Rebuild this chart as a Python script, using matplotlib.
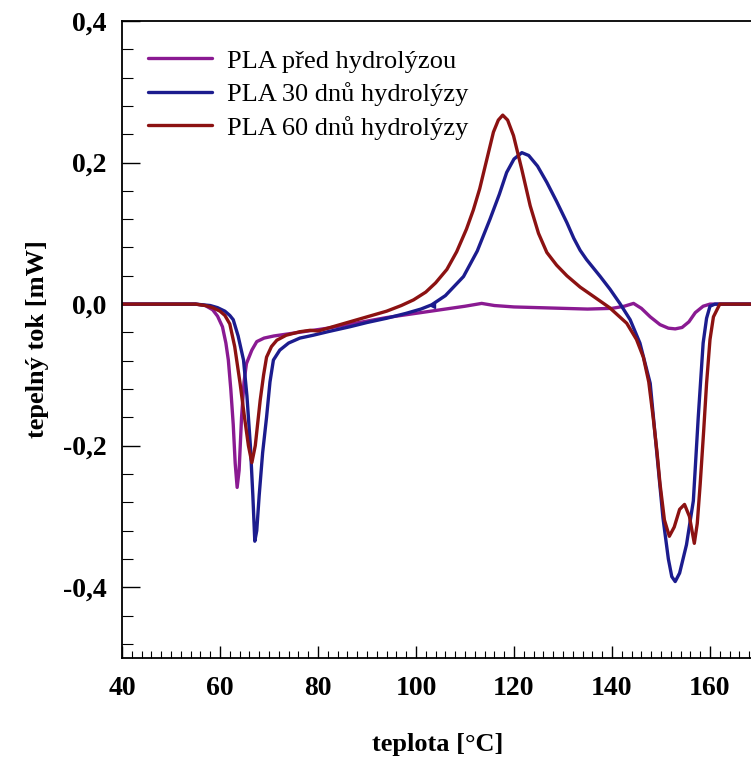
import numpy as np
import matplotlib
matplotlib.use("Agg")
import matplotlib.pyplot as plt
from matplotlib.ticker import MultipleLocator, FuncFormatter

plt.rcParams['font.family'] = ['Liberation Serif', 'DejaVu Serif']

# PLA před hydrolýzou
t_pred = [40, 55, 57, 58.5, 59.5, 60.5, 61.2, 61.7, 62.2, 62.7, 63.1, 63.5, 63.9, 64.4, 64.9,
          65.4, 66.5, 67.5, 69, 71, 74, 78, 82, 86, 90, 94, 98, 102, 106, 110, 113.4, 116,
          120, 125, 130, 135, 140, 142.5, 144.4, 146, 147.8, 149.8, 151.5, 152.9, 154.3,
          155.7, 157, 158.6, 160, 170, 180]
v_pred = [0, 0, -0.002, -0.008, -0.017, -0.032, -0.055, -0.079, -0.12, -0.17, -0.225, -0.259,
          -0.235, -0.16, -0.11, -0.084, -0.065, -0.053, -0.048, -0.045, -0.042, -0.038,
          -0.034, -0.029, -0.024, -0.019, -0.015, -0.011, -0.007, -0.003, 0.001, -0.002,
          -0.004, -0.005, -0.006, -0.007, -0.006, -0.003, 0.001, -0.006, -0.018, -0.029,
          -0.034, -0.035, -0.033, -0.025, -0.012, -0.003, 0, 0, 0]

# PLA 30 dnů hydrolýzy
t_30 = [40, 55, 58, 59.5, 61, 62, 62.7, 63.7, 64.8, 65.5, 66.2, 66.7, 67.1, 67.5, 68, 68.7,
        69.5, 70.2, 70.9, 72.2, 74, 76.3, 79, 82, 86.5, 90, 94, 98, 101, 103.2, 106, 109.7,
        112.5, 115.1, 117, 118.5, 120, 121.6, 123, 124.8, 126.7, 128.7, 130.8, 132.2, 133.5,
        134.8, 136.2, 137.6, 139.6, 141.6, 143.7, 145.7, 147.8, 149.1, 150.4, 151.5, 152.2,
        152.9, 153.8, 155.2, 156.6, 157.6, 158.6, 159.3, 160, 161, 170, 180]
v_30 = [0, 0, -0.002, -0.005, -0.01, -0.016, -0.022, -0.045, -0.079, -0.13, -0.2, -0.27,
        -0.335, -0.32, -0.27, -0.21, -0.16, -0.11, -0.079, -0.065, -0.055, -0.048, -0.044,
        -0.039, -0.032, -0.026, -0.02, -0.013, -0.007, -0.001, 0.012, 0.039, 0.075, 0.12,
        0.155, 0.186, 0.205, 0.214, 0.21, 0.195, 0.172, 0.145, 0.115, 0.093, 0.076, 0.063,
        0.051, 0.039, 0.021, 0.001, -0.022, -0.055, -0.112, -0.207, -0.302, -0.36, -0.385,
        -0.392, -0.38, -0.34, -0.278, -0.16, -0.055, -0.02, -0.003, 0, 0, 0]

# PLA 60 dnů hydrolýzy
t_60 = [40, 55, 57, 58.5, 60, 61, 62, 63, 64.1, 65, 65.8, 66.5, 67.2, 68.2, 68.9, 69.5, 70.5,
        71.6, 73.5, 76.3, 78.4, 80, 83, 86.5, 90, 94, 97, 99.5, 102, 104, 106.3, 108.3,
        110.3, 111.7, 113, 114.4, 115.8, 116.8, 117.7, 118.7, 119.9, 121.6, 123.3, 125,
        126.7, 128.7, 130.8, 133.5, 136.2, 139.5, 143, 145, 146.4, 147.5, 148.4, 149.2,
        149.8, 150.7, 151.7, 152.7, 153.8, 154.8, 155.8, 156.8, 157.4, 158, 158.7, 159.3,
        160, 160.7, 162, 170, 180]
v_60 = [0, 0, -0.002, -0.005, -0.01, -0.016, -0.028, -0.06, -0.112, -0.16, -0.2, -0.224,
        -0.2, -0.136, -0.1, -0.075, -0.06, -0.051, -0.044, -0.039, -0.037, -0.038, -0.032,
        -0.025, -0.018, -0.01, -0.002, 0.006, 0.017, 0.03, 0.049, 0.074, 0.106, 0.133,
        0.163, 0.203, 0.243, 0.26, 0.267, 0.26, 0.238, 0.19, 0.139, 0.1, 0.073, 0.055,
        0.04, 0.024, 0.011, -0.005, -0.027, -0.05, -0.075, -0.11, -0.16, -0.21, -0.254,
        -0.305, -0.328, -0.315, -0.29, -0.283, -0.3, -0.338, -0.31, -0.254, -0.18, -0.112,
        -0.05, -0.018, 0, 0, 0]

labels = ['PLA před hydrolýzou', 'PLA 30 dnů hydrolýzy', 'PLA 60 dnů hydrolýzy']
colors = ['#8a1a92', '#1c1c8e', '#8c1212']

fig = plt.figure(figsize=(7.51, 7.60), dpi=100)
# osa x pokračuje až za pravý okraj obrázku
ax = fig.add_axes([122 / 751, 102 / 760, 686 / 751, 637 / 760])

for t, v, lab, c in zip([t_pred, t_30, t_60], [v_pred, v_30, v_60], labels, colors):
    ax.plot(t, v, color=c, lw=2.4, label=lab, solid_capstyle='round')
# malý zub na modré křivce kolem 103 °C
ax.plot([103.2], [-0.001], marker='<', ms=5, color=colors[1])

ax.set_xlim(40, 180)
ax.set_ylim(-0.5, 0.4)

ax.xaxis.set_major_locator(MultipleLocator(20))
ax.xaxis.set_minor_locator(MultipleLocator(2))
ax.xaxis.set_major_formatter(FuncFormatter(lambda x, p: f'{x:.0f}' if x < 170 else ''))
ax.yaxis.set_major_locator(MultipleLocator(0.2))
ax.yaxis.set_minor_locator(MultipleLocator(0.04))
ax.yaxis.set_major_formatter(FuncFormatter(lambda y, p: f'{y:.1f}'.replace('.', ',')))

ax.tick_params(axis='x', which='major', direction='in', length=9, width=1, pad=13,
               labelsize=20, top=False)
ax.tick_params(axis='x', which='minor', direction='in', length=5, width=0.8, top=False)
ax.tick_params(axis='y', which='major', direction='in', length=13, width=1, pad=11,
               labelsize=20, right=False)
ax.tick_params(axis='y', which='minor', direction='in', length=8, width=0.8, right=False)
for lbl in ax.get_xticklabels() + ax.get_yticklabels():
    lbl.set_fontweight('bold')

for s in ax.spines.values():
    s.set_linewidth(1.3)

ax.set_xlabel('teplota [°C]', fontsize=19, fontweight='bold')
ax.xaxis.set_label_coords((438 - 122) / 686, -0.118)
ax.set_ylabel('tepelný tok [mW]', fontsize=19, fontweight='bold', labelpad=10)

ax.legend(loc='upper left', bbox_to_anchor=(0.003, 0.993), frameon=False, fontsize=19,
          handlelength=2.45, handletextpad=0.55, labelspacing=0.36)

fig.savefig('out.png', dpi=100)
